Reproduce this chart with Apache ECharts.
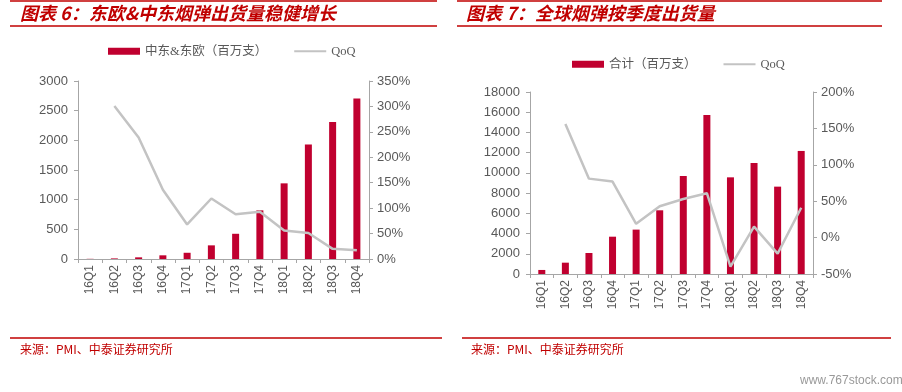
<!DOCTYPE html>
<html><head><meta charset="utf-8">
<script src="https://cdn.jsdelivr.net/npm/echarts@6/dist/echarts.min.js"></script>
<style>html,body{margin:0;padding:0;background:#fff}#c{width:902px;height:392px}</style>
</head><body><div id="c"></div>
<script>
const categories = ['16Q1','16Q2','16Q3','16Q4','17Q1','17Q2','17Q3','17Q4','18Q1','18Q2','18Q3','18Q4'];
const meShipments = [3, 10, 28, 62, 105, 230, 425, 820, 1275, 1930, 2310, 2705];
const meQoQ = [null, 301, 239, 136, 68, 119, 88, 93, 56, 51, 20, 17];
const totalShipments = [400, 1120, 2080, 3690, 4390, 6300, 9690, 15730, 9560, 10980, 8640, 12170];
const totalQoQ = [null, 156, 81, 77, 19, 43, 53, 61, -40, 15, -22, 41];
const name1 = '中东&东欧（百万支）';
const name2 = '合计（百万支）';

const RED = '#c0002f';
const GREY = '#c3c3c3';
const TXT = '#595959';
const lbl = {color: TXT, fontFamily: 'Liberation Sans, Arial', fontSize: 13};
const axLine = {show: true, lineStyle: {color: '#a6a6a6', width: 1}};

function xAx(grid) {
  return {type: 'category', gridIndex: grid, data: categories, boundaryGap: true,
    axisLine: axLine, axisTick: {show: true, length: 4, alignWithLabel: false, lineStyle: {color: '#a6a6a6'}},
    axisLabel: Object.assign({}, lbl, {rotate: 90, fontSize: 12, margin: 6})};
}
function yAx(grid, opts) {
  return Object.assign({type: 'value', gridIndex: grid, splitLine: {show: false},
    axisLine: axLine, axisTick: {show: true, length: 4, lineStyle: {color: '#a6a6a6'}},
    axisLabel: Object.assign({}, lbl, {margin: 10, formatter: v => String(v)})}, opts);
}
const legText = {color: TXT, fontSize: 12.5, fontFamily: 'Liberation Serif, Noto Sans CJK SC'};
const qoqLegend = {name: 'QoQ', itemStyle: {opacity: 0}};

const chart = echarts.init(document.getElementById('c'));
chart.setOption({
  animation: false,
  textStyle: {fontFamily: 'Liberation Sans, Arial'},
  grid: [
    {left: 78, top: 81, width: 291, height: 178},
    {left: 530, top: 92, width: 283, height: 182}
  ],
  legend: [
    {left: 103, top: 40, itemWidth: 32, itemHeight: 7, itemGap: 26, data: [{name: name1, icon: 'rect'}, qoqLegend], textStyle: legText},
    {left: 567, top: 53, itemWidth: 32, itemHeight: 7, itemGap: 26, data: [{name: name2, icon: 'rect'}, qoqLegend], textStyle: legText}
  ],
  xAxis: [xAx(0), xAx(1)],
  yAxis: [
    yAx(0, {min: 0, max: 3000, interval: 500, position: 'left'}),
    yAx(0, {min: 0, max: 350, interval: 50, position: 'right',
      axisLabel: Object.assign({}, lbl, {margin: 8, formatter: '{value}%'})}),
    yAx(1, {min: 0, max: 18000, interval: 2000, position: 'left'}),
    yAx(1, {min: -50, max: 200, interval: 50, position: 'right',
      axisLabel: Object.assign({}, lbl, {margin: 8, formatter: '{value}%'})})
  ],
  series: [
    {name: name1, type: 'bar', xAxisIndex: 0, yAxisIndex: 0, data: meShipments, barWidth: 7, itemStyle: {color: RED}},
    {name: 'QoQ', type: 'line', xAxisIndex: 0, yAxisIndex: 1, data: meQoQ, symbol: 'none', lineStyle: {color: GREY, width: 2.5}, itemStyle: {color: GREY}},
    {name: name2, type: 'bar', xAxisIndex: 1, yAxisIndex: 2, data: totalShipments, barWidth: 7, itemStyle: {color: RED}},
    {name: 'QoQ', type: 'line', xAxisIndex: 1, yAxisIndex: 3, data: totalQoQ, symbol: 'none', lineStyle: {color: GREY, width: 2.5}, itemStyle: {color: GREY}}
  ],
  graphic: [
    {type: 'line', shape: {x1: 10, y1: 1, x2: 437, y2: 1}, style: {stroke: '#c00000', lineWidth: 1.5}},
    {type: 'line', shape: {x1: 10, y1: 26, x2: 437, y2: 26}, style: {stroke: '#c00000', lineWidth: 1.5}},
    {type: 'line', shape: {x1: 457, y1: 1, x2: 882, y2: 1}, style: {stroke: '#c00000', lineWidth: 1.5}},
    {type: 'line', shape: {x1: 457, y1: 26, x2: 882, y2: 26}, style: {stroke: '#c00000', lineWidth: 1.5}},
    {type: 'text', left: 20, top: 4, style: {text: '图表 6：东欧&中东烟弹出货量稳健增长', fill: '#c00000', font: 'italic bold 18px "Noto Sans CJK SC"'}},
    {type: 'text', left: 466, top: 4, style: {text: '图表 7：全球烟弹按季度出货量', fill: '#c00000', font: 'italic bold 18px "Noto Sans CJK SC"'}},
    {type: 'line', shape: {x1: 10, y1: 338, x2: 442, y2: 338}, style: {stroke: '#c00000', lineWidth: 1.5}},
    {type: 'line', shape: {x1: 462, y1: 338, x2: 891, y2: 338}, style: {stroke: '#c00000', lineWidth: 1.5}},
    {type: 'text', left: 20, top: 343, style: {text: '来源：PMI、中泰证券研究所', fill: '#c00000', font: '12px "Noto Sans CJK SC"'}},
    {type: 'text', left: 471, top: 343, style: {text: '来源：PMI、中泰证券研究所', fill: '#c00000', font: '12px "Noto Sans CJK SC"'}},
    {type: 'text', left: 800, top: 375, style: {text: 'www.767stock.com', fill: '#999', font: '12px "Liberation Sans Narrow", "Liberation Sans"'}}
  ]
});
</script></body></html>
